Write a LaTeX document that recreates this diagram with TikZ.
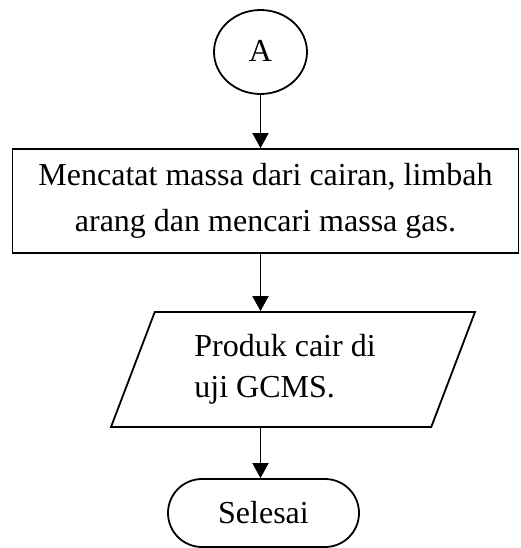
\documentclass[tikz,border=0pt]{standalone}
\usepackage{fontspec}
\setmainfont{Liberation Serif}
\usetikzlibrary{shapes.geometric,shapes.misc,arrows.meta}
\begin{document}
\begin{tikzpicture}[x=1pt,y=1pt,
  every node/.style={font=\fontsize{32}{46}\selectfont, inner sep=0pt},
  shp/.style={draw, line width=1.8pt},
  arr/.style={line width=1.8pt, -{Triangle[length=15pt,width=16pt]}}]
\useasboundingbox (0,0) rectangle (520,-548);
\node[shp, ellipse, minimum width=93pt, minimum height=84pt] (a) at (260.5,-52) {\raisebox{3pt}{A}};
\node[shp, rectangle, minimum width=506pt, minimum height=104pt, align=center] (b) at (265.5,-201)
  {Mencatat massa dari cairan, limbah\\arang dan mencari massa gas.};
\node[shp, trapezium, trapezium left angle=58, trapezium right angle=122, trapezium stretches body=true,
  minimum width=364pt, minimum height=115pt, align=left, font=\fontsize{32}{41}\selectfont] (p) at (293,-369.5)
  {Produk cair di\hspace*{16pt}\\uji GCMS.};
\node[shp, rounded rectangle, minimum width=191pt, minimum height=68pt] (s) at (263.5,-513) {Selesai};
\draw[arr] (a.south) -- (a.south |- b.north);
\draw[arr] (b.south -| a.south) -- (a.south |- p.north);
\draw[arr] (a.south |- p.south) -- (a.south |- s.north);
\end{tikzpicture}
\end{document}
